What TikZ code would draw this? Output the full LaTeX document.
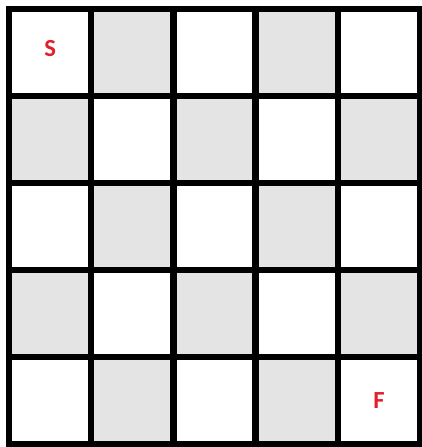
\documentclass[tikz,border=0pt]{standalone}
\usepackage{fontspec}
\setsansfont{Carlito}
\usepackage{tikz}
\definecolor{cellgray}{HTML}{E4E4E4}
\definecolor{markred}{HTML}{E0202A}
\tikzset{
    flag/.style={text=markred,font=\sffamily\bfseries\fontsize{7}{8}\selectfont},
    gridline/.style={line width=1.8pt,line cap=rect}
}

\begin{document}
\begin{tikzpicture}[x=0.822cm,y=0.87cm]

    \useasboundingbox (-0.09cm,-0.03cm) rectangle (4.13cm,4.44cm);

    % Shaded cells
    \foreach \i in {0,...,4}
      \foreach \j in {0,...,4} {
        \pgfmathtruncatemacro{\odd}{mod(\i+\j,2)}
        \ifnum\odd=1
          \fill[cellgray] (\i,\j) rectangle ++(1,1);
        \fi
      }

    % Board
    \foreach \k in {1,...,4} {
      \draw[gridline] (\k,0) -- (\k,5);
      \draw[gridline] (0,\k) -- (5,\k);
    }
    \draw[gridline] (0,0) rectangle (5,5);

    % Start and finish
    \node[flag] (start) at (0.5,4.55) {S};
    \node[flag] (finish) at (4.5,0.5) {F};

\end{tikzpicture}
\end{document}
